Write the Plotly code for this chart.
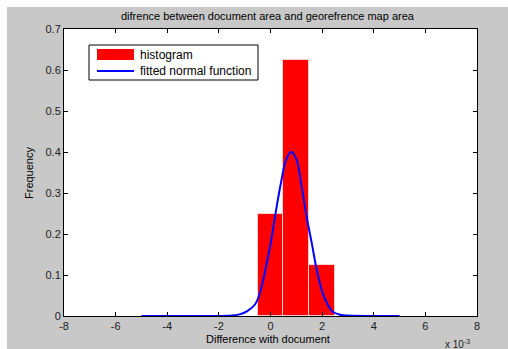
import plotly.graph_objects as go

# Histogram data (x in units of 1e-3)
bin_centers = [0, 1, 2]
bin_width = [1, 1, 1]
freq = [0.25, 0.625, 0.125]

# Fitted normal curve
curve_x = [-5, -4, -3, -2, -1.5, -1.2, -0.9, -0.6, -0.4, -0.2, 0.0, 0.2, 0.4, 0.6,
           0.8, 1.0, 1.2, 1.4, 1.6, 1.8, 2.0, 2.2, 2.4, 2.7, 3.0, 4.0, 5.0]
curve_y = [0, 0, 0, 0, 0.001, 0.004, 0.012, 0.028, 0.058, 0.112, 0.175, 0.252, 0.323, 0.38,
           0.40, 0.383, 0.318, 0.242, 0.177, 0.11, 0.06, 0.03, 0.011, 0.003, 0.001, 0, 0]

x_ticks = [-8, -6, -4, -2, 0, 2, 4, 6, 8]
y_ticks = [0, 0.1, 0.2, 0.3, 0.4, 0.5, 0.6, 0.7]

FONT = "Liberation Sans, Arial, sans-serif"
GRAY = "#c8c8c8"

fig = go.Figure()
fig.add_trace(go.Bar(x=bin_centers, y=freq, width=bin_width,
                     marker=dict(color="#ff0000", line=dict(color="#ffd0d0", width=1)),
                     name="histogram", showlegend=False))
fig.add_trace(go.Scatter(x=curve_x, y=curve_y, mode="lines",
                         line=dict(color="#0000ff", width=2, shape="spline"),
                         name="fitted normal function", showlegend=False))

W, H = 508, 349
L, R, T, B = 64, 477, 29, 316
pw, ph = R - L, B - T

def px(x):
    return (x - L) / pw

def py(y):
    return (B - y) / ph

shapes = [
    # white strips on the left and top of the grey figure
    dict(type="rect", xref="paper", yref="paper", x0=px(-5), x1=px(7), y0=py(360), y1=py(-5),
         fillcolor="white", line=dict(width=0), layer="below"),
    dict(type="rect", xref="paper", yref="paper", x0=px(-5), x1=px(515), y0=py(7), y1=py(-5),
         fillcolor="white", line=dict(width=0), layer="below"),
    # legend box
    dict(type="rect", xref="paper", yref="paper", x0=px(89), x1=px(258), y0=py(80), y1=py(45),
         fillcolor="white", line=dict(color="black", width=1), layer="above"),
    dict(type="rect", xref="paper", yref="paper", x0=px(97), x1=px(134), y0=py(60), y1=py(49),
         fillcolor="#ff0000", line=dict(width=0), layer="above"),
    dict(type="line", xref="paper", yref="paper", x0=px(97), x1=px(134), y0=py(71), y1=py(71),
         line=dict(color="#0000ff", width=2), layer="above"),
]

annotations = [
    dict(text="histogram", xref="paper", yref="paper", x=px(138), y=py(55), xanchor="left",
         yanchor="middle", showarrow=False, font=dict(family=FONT, size=12, color="black")),
    dict(text="fitted normal function", xref="paper", yref="paper", x=px(138), y=py(71),
         xanchor="left", yanchor="middle", showarrow=False,
         font=dict(family=FONT, size=12, color="black")),
    dict(text="difrence between document area and georefrence map area", xref="paper",
         yref="paper", x=px(268), y=py(16), xanchor="center", yanchor="middle",
         showarrow=False, font=dict(family=FONT, size=11, color="black")),
    dict(text="Difference with document", xref="paper", yref="paper", x=px(268), y=py(339),
         xanchor="center", yanchor="middle", showarrow=False,
         font=dict(family=FONT, size=11, color="black")),
    dict(text="Frequency", xref="paper", yref="paper", x=px(29), y=py(173), textangle=-90,
         xanchor="center", yanchor="middle", showarrow=False,
         font=dict(family=FONT, size=11, color="black")),
    dict(text="x 10<sup>-3</sup>", xref="paper", yref="paper", x=px(443), y=py(352),
         xanchor="left", yanchor="bottom", showarrow=False,
         font=dict(family=FONT, size=10, color="#222222")),
]

fig.update_layout(
    width=W, height=H,
    margin=dict(l=L, r=W - R, t=T, b=H - B, pad=0),
    paper_bgcolor=GRAY, plot_bgcolor="white",
    bargap=0, showlegend=False,
    font=dict(family=FONT, size=11, color="#222222"),
    shapes=shapes, annotations=annotations,
    xaxis=dict(range=[-8, 8], tickvals=x_ticks, ticktext=[str(v) for v in x_ticks],
               showgrid=False, zeroline=False, showline=True, linecolor="black", linewidth=1,
               mirror="ticks", ticks="inside", ticklen=4, tickcolor="black",
               tickfont=dict(family=FONT, size=11, color="#222222")),
    yaxis=dict(range=[0, 0.7], tickvals=y_ticks, ticktext=["0"] + ["%.1f" % v for v in y_ticks[1:]],
               showgrid=False, zeroline=False, showline=True, linecolor="black", linewidth=1,
               mirror="ticks", ticks="inside", ticklen=4, tickcolor="black",
               tickfont=dict(family=FONT, size=11, color="#222222")),
)

fig.write_html("out.html")
